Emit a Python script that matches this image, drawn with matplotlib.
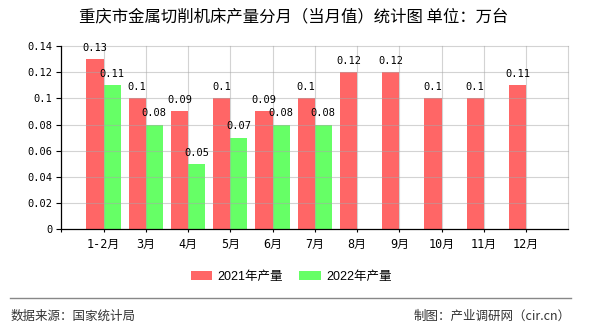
import matplotlib
matplotlib.use("Agg")
import matplotlib.pyplot as plt
from matplotlib.patches import Patch
from matplotlib.lines import Line2D

categories = ["1-2月", "3月", "4月", "5月", "6月", "7月", "8月", "9月", "10月", "11月", "12月"]
prod_2021 = [0.13, 0.1, 0.09, 0.1, 0.09, 0.1, 0.12, 0.12, 0.1, 0.1, 0.11]
prod_2022 = [0.11, 0.08, 0.05, 0.07, 0.08, 0.08]
y_ticks = [0, 0.02, 0.04, 0.06, 0.08, 0.1, 0.12, 0.14]
y_tick_labels = ["0", "0.02", "0.04", "0.06", "0.08", "0.1", "0.12", "0.14"]
series_names = ["2021年产量", "2022年产量"]
title = "重庆市金属切削机床产量分月（当月值）统计图 单位：万台"
source = "数据来源：国家统计局"
credit = "制图：产业调研网（cir.cn）"

RED = "#FF6666"
GREEN = "#66FF66"
CJK = ["Noto Sans CJK SC", "DejaVu Sans"]
MONO = ["DejaVu Sans Mono", "Noto Sans CJK SC"]

plt.rcParams['font.family'] = CJK

fig = plt.figure(figsize=(5.9, 3.3), dpi=100)
ax = fig.add_axes([61.3/590, 1-229.3/330, (568.3-61.3)/590, (229.3-46)/330])

w = 0.405
xs = list(range(1, len(categories) + 1))
b1 = ax.bar([x - w/2 for x in xs], prod_2021, width=w, color=RED, zorder=2)
xs2 = xs[:len(prod_2022)]
b2 = ax.bar([x + w/2 for x in xs2], prod_2022, width=w, color=GREEN, zorder=2)

for rect, v in zip(b1, prod_2021):
    ax.annotate(f"{v:g}", (rect.get_x() + rect.get_width()/2, v), xytext=(0, 4.5),
                textcoords="offset points", ha="center", va="bottom",
                fontsize=7.5, family=MONO, color="black", zorder=4)
for rect, v in zip(b2, prod_2022):
    ax.annotate(f"{v:g}", (rect.get_x() + rect.get_width()/2, v), xytext=(0, 4.5),
                textcoords="offset points", ha="center", va="bottom",
                fontsize=7.5, family=MONO, color="black", zorder=4)

ax.set_xlim(0, len(categories) + 1)
ax.set_ylim(0, 0.14)
ax.set_xticks([0] + xs)
ax.set_xticklabels([""] + categories, family=MONO, fontsize=8.5)
ax.set_yticks(y_ticks)
ax.set_yticklabels(y_tick_labels, family=MONO, fontsize=7.5)
ax.tick_params(axis="x", length=2.5, width=0.8, pad=3.5, colors="black")
ax.tick_params(axis="y", length=3.3, width=0.8, pad=3, colors="black")

gc = "#a8a8a8"
for y in y_ticks[1:]:
    ax.axhline(y, color=gc, lw=0.8, alpha=0.5, zorder=3, clip_on=False)
for x in xs + [len(categories) + 1]:
    ax.axvline(x, color=gc, lw=0.8, alpha=0.5, zorder=3, clip_on=False)

ax.spines["top"].set_visible(False)
ax.spines["right"].set_visible(False)
ax.spines["left"].set_color("black")
ax.spines["bottom"].set_color("black")
ax.spines["left"].set_linewidth(0.9)
ax.spines["bottom"].set_linewidth(0.9)
ax.spines["left"].set_zorder(5)
ax.spines["bottom"].set_zorder(5)

fig.text(294/590, 1-18/330, title, ha="center", va="center", fontsize=11.8, color="black")

handles = [Patch(facecolor=RED, edgecolor="none"), Patch(facecolor=GREEN, edgecolor="none")]
leg = fig.legend(handles, series_names, loc="center", bbox_to_anchor=(291/590, 1-277/330),
                 ncol=2, frameon=False, handlelength=1.75, handleheight=0.7,
                 handletextpad=0.4, columnspacing=1.3,
                 prop={"family": ["Liberation Sans", "Noto Sans CJK SC"], "size": 9})

fig.add_artist(Line2D([10/590, 571/590], [1-297.5/330, 1-297.5/330], transform=fig.transFigure,
                      color="#888888", lw=1.0))
fig.text(11/590, 1-316/330, source, ha="left", va="center", fontsize=9, color="#333333")
fig.text(571/590, 1-316/330, credit, ha="right", va="center", fontsize=9, color="#333333")

fig.savefig("out.png", dpi=100)
